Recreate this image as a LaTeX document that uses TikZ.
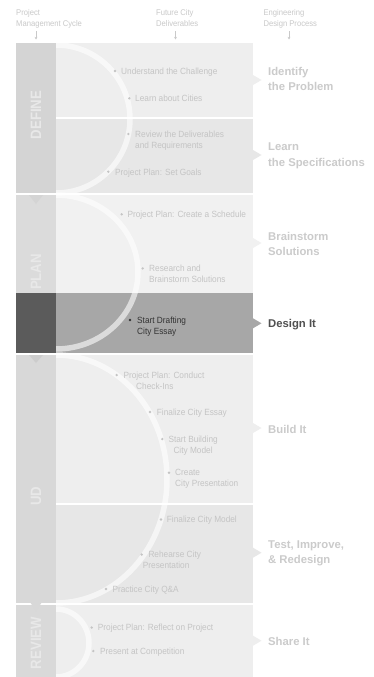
\documentclass[tikz,border=0pt]{standalone}
\usepackage{fontspec}
\setmainfont{Liberation Sans}
\newfontfamily\condfont{Liberation Sans}[FakeStretch=0.92]
\newfontfamily\phasefont{Liberation Sans}[FakeStretch=0.88]
\usetikzlibrary{arrows.meta}
\definecolor{rowA}{HTML}{EEEEEE}
\definecolor{rowB}{HTML}{E7E7E7}
\definecolor{rowC}{HTML}{F1F1F1}
\definecolor{rowDark}{HTML}{A7A7A7}
\definecolor{colDefine}{HTML}{D4D4D4}
\definecolor{colPlan}{HTML}{DBDBDB}
\definecolor{colBuild}{HTML}{D8D8D8}
\definecolor{colReview}{HTML}{D9D9D9}
\definecolor{colDark}{HTML}{5B5B5B}
\definecolor{txtFaint}{HTML}{C4C4C4}
\definecolor{txtEdp}{HTML}{CBCBCB}
\definecolor{txtHdr}{HTML}{C9C9C9}
\definecolor{txtPhase}{HTML}{E8E8E8}
\definecolor{txtDarkD}{HTML}{333333}
\definecolor{txtDarkE}{HTML}{505050}
\begin{document}
\begin{tikzpicture}[x=1pt,y=-1pt,
  hdr/.style={anchor=north west,inner sep=0pt,align=left,text=txtHdr,
    font=\condfont\fontsize{8.3}{10.3}\selectfont},
  hdrarrow/.style={draw=txtHdr,line width=0.6pt,-{Stealth[length=2.6pt,width=2.6pt]}},
  deliv/.style={anchor=north west,inner sep=0pt,align=left,text=txtFaint,
    font=\condfont\fontsize{9}{10.7}\selectfont},
  dot/.style={circle,fill=txtFaint,inner sep=0pt,minimum size=2.6pt},
  edp/.style={anchor=north west,inner sep=0pt,align=left,text=txtEdp,
    font=\bfseries\fontsize{11.3}{15.7}\selectfont},
  phase/.style={inner sep=0pt,rotate=90,text=txtPhase,
    font=\phasefont\bfseries\fontsize{15}{15}\selectfont},
  arcline/.style={draw=white,draw opacity=0.6,line width=5.5pt}
]
\useasboundingbox (0,0) rectangle (374,677);
\fill[white] (0,0) rectangle (374,677);

% main panel rows
\fill[rowA] (56,43) rectangle (253,117);
\fill[rowB] (56,119) rectangle (253,192.5);
\fill[rowC] (56,195) rectangle (253,293);
\fill[rowDark] (56,293) rectangle (253,352.5);
\fill[rowA] (56,355) rectangle (253,502.5);
\fill[rowB] (56,505) rectangle (253,602.5);
\fill[rowA] (56,605) rectangle (253,677);

% right-pointing tabs
\fill[rowA] (253,75) -- (261.5,80) -- (253,85) -- cycle;
\fill[rowB] (253,150) -- (261.5,155) -- (253,160) -- cycle;
\fill[rowC] (253,238) -- (261.5,243) -- (253,248) -- cycle;
\fill[rowDark] (253,318.3) -- (261.5,323.3) -- (253,328.3) -- cycle;
\fill[rowA] (253,423) -- (261.5,428) -- (253,433) -- cycle;
\fill[rowB] (253,547.7) -- (261.5,552.7) -- (253,557.7) -- cycle;
\fill[rowA] (253,635.7) -- (261.5,640.7) -- (253,645.7) -- cycle;

% left column
\fill[colDefine] (16,43) rectangle (56,192.5);
\fill[colPlan] (16,195) rectangle (56,293);
\fill[colDark] (16,293) rectangle (56,352.5);
\fill[colBuild] (16,355) rectangle (56,602.5);
\fill[colReview] (16,605) rectangle (56,677);
\fill[colDefine] (29,195) -- (43,195) -- (36,204) -- cycle;
\fill[black!20] (29,355) -- (43,355) -- (36,363) -- cycle;
\fill[colBuild] (30,602) -- (42,602) -- (36,611) -- cycle;

% arcs
\begin{scope}
  \clip (56,43) rectangle (253,677);
  \draw[arcline] (56,119) ellipse [x radius=74pt, y radius=74pt];
  \draw[arcline] (56,272) ellipse [x radius=82pt, y radius=77pt];
  \draw[arcline] (56,479) ellipse [x radius=111pt, y radius=124pt];
  \draw[arcline] (56,643) ellipse [x radius=33pt, y radius=34pt];
\end{scope}

% phase labels
\node[phase] (pDefine) at (36,115) {DEFINE};
\node[phase] (pPlan) at (36,272) {PLAN};
\node[phase] (pBuild) at (36,496) {UD};
\node[phase] (pReview) at (36,643) {REVIEW};

% headers
\node[hdr] (hPM) at (16,9.7) {Project\\Management Cycle};
\node[hdr] (hFC) at (156,9.7) {Future City\\Deliverables};
\node[hdr] (hED) at (263.3,9.7) {Engineering\\Design Process};
\coordinate (a1s) at (36,31.5);   \coordinate (a1e) at (36,39.5);
\coordinate (a2s) at (175.5,31.5); \coordinate (a2e) at (175.5,39.5);
\coordinate (a3s) at (289,31.5);  \coordinate (a3e) at (289,39.5);
\draw[hdrarrow] (a1s) -- (a1e);
\draw[hdrarrow] (a2s) -- (a2e);
\draw[hdrarrow] (a3s) -- (a3e);

% deliverables
\node[dot] (b1) at (115,71) {};
\node[deliv] (t1) at (121,67.8) {Understand the Challenge};
\node[dot] (b2) at (129.3,98.3) {};
\node[deliv] (t2) at (135,95.2) {Learn about Cities};
\node[dot] (b3) at (128.3,134) {};
\node[deliv] (t3) at (135,130.8) {Review the Deliverables\\and Requirements};
\node[dot] (b4) at (108.3,171.7) {};
\node[deliv] (t4) at (115,168.5) {Project Plan: Set Goals};
\node[dot] (b5) at (121.7,214.3) {};
\node[deliv] (t5) at (127.3,211.2) {Project Plan: Create a Schedule};
\node[dot] (b6) at (142.7,268.4) {};
\node[deliv] (t6) at (149,265.2) {Research and\\Brainstorm Solutions};
\node[dot,fill=txtDarkD] (b7) at (130,320) {};
\node[deliv,text=txtDarkD] (t7) at (137,316.8) {Start Drafting\\City Essay};
\node[dot] (b8) at (116.7,375) {};
\node[deliv] (t8) at (123.3,371.8) {Project Plan: Conduct\\\hspace*{12.7pt}Check-Ins};
\node[dot] (b9) at (150,412) {};
\node[deliv] (t9) at (156.7,408.5) {Finalize City Essay};
\node[dot] (b10) at (162.3,439) {};
\node[deliv] (t10) at (168.3,435.8) {Start Building\\\hspace*{5pt}City Model};
\node[dot] (b11) at (169,472.7) {};
\node[deliv] (t11) at (175,469.5) {Create\\City Presentation};
\node[dot] (b12) at (161,519.5) {};
\node[deliv] (t12) at (166.7,516.2) {Finalize City Model};
\node[dot] (b13) at (141.7,554.5) {};
\node[deliv] (t13) at (148.3,551.2) {Rehearse City\\\hspace*{-5.6pt}Presentation};
\node[dot] (b14) at (106,589) {};
\node[deliv] (t14) at (112.3,585.5) {Practice City Q\&A};
\node[dot] (b15) at (91.7,627.5) {};
\node[deliv] (t15) at (97.7,624.2) {Project Plan: Reflect on Project};
\node[dot] (b16) at (93.3,651) {};
\node[deliv] (t16) at (100,647.5) {Present at Competition};

% engineering design process
\node[edp] (e1) at (268,66.8) {Identify\\the Problem};
\node[edp] (e2) at (268,142.8) {Learn\\the Specifications};
\node[edp] (e3) at (268,231.8) {Brainstorm\\Solutions};
\node[edp,text=txtDarkE] (e4) at (268,319.5) {Design It};
\node[edp] (e5) at (268,425.1) {Build It};
\node[edp] (e6) at (268,540.3) {Test, Improve,\\\& Redesign};
\node[edp] (e7) at (268,636.8) {Share It};
\end{tikzpicture}
\end{document}
